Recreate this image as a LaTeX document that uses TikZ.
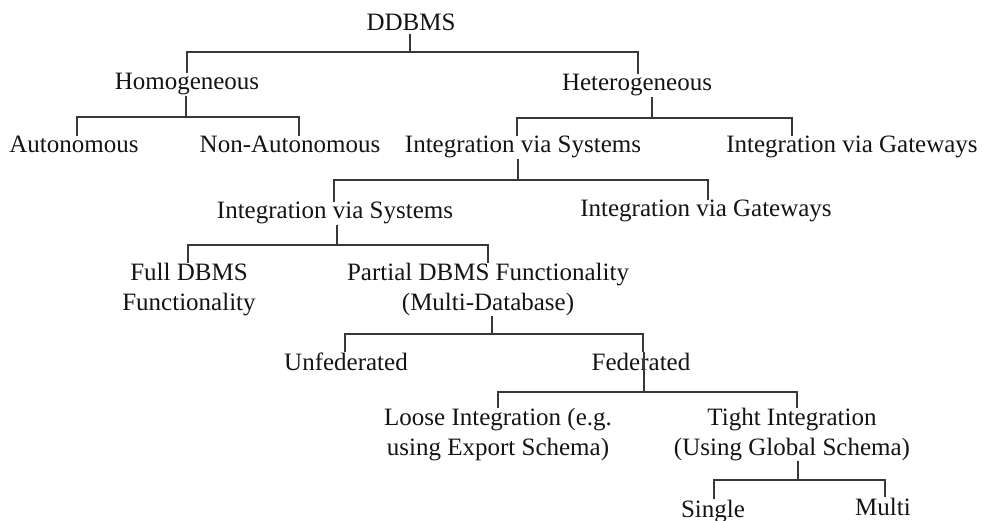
\documentclass[tikz,border=0pt]{standalone}
\usepackage{fontspec}
\setmainfont{Liberation Serif}
\begin{document}
\begin{tikzpicture}[x=1pt,y=-1pt,
  lbl/.style={font=\fontsize{25}{29.5}\selectfont, inner sep=0pt, anchor=base, text=black!92},
  two/.style={lbl, align=center},
  link/.style={draw=black!78, line width=1.3pt}]
\useasboundingbox (0,0) rectangle (982,521);

% labels (centre x, baseline y; two-line labels use the last baseline)
\node[lbl] (ddbms)   at (411,31)  {DDBMS};
\node[lbl] (hom)     at (187,90)  {Homogeneous};
\node[lbl] (het)     at (637,91)  {Heterogeneous};
\node[lbl] (auto)    at (74,153)  {Autonomous};
\node[lbl] (nonauto) at (290,153) {Non-Autonomous};
\node[lbl] (ivsa)    at (523,153) {Integration via Systems};
\node[lbl] (ivga)    at (852,153) {Integration via Gateways};
\node[lbl] (ivsb)    at (335,219) {Integration via Systems};
\node[lbl] (ivgb)    at (706,217) {Integration via Gateways};
\node[two] (full)    at (189,310) {Full DBMS\\Functionality};
\node[two] (partial) at (488,310) {Partial DBMS Functionality\\(Multi-Database)};
\node[lbl] (unfed)   at (346,370) {Unfederated};
\node[lbl] (fed)     at (641,370) {Federated};
\node[two] (loose)   at (498,455) {Loose Integration (e.g.\\using Export Schema)};
\node[two] (tight)   at (792,455) {Tight Integration\\(Using Global Schema)};
\node[lbl] (single)  at (713,517) {Single};
\node[lbl] (multi)   at (883,515) {Multi};

% junction points on the horizontal bars
\coordinate (jroot)  at (410,52);
\coordinate (jhom)   at (186,117);
\coordinate (jhet)   at (652,118);
\coordinate (jivs)   at (518,180);
\coordinate (jivsb)  at (337,245);
\coordinate (jpart)  at (492,334);
\coordinate (jfed)   at (644,392);
\coordinate (jtight) at (798,480);

% DDBMS
\draw[link] ([yshift=-3]ddbms.south -| jroot) -- (jroot);
\draw[link] ([xshift=0]hom.north) |- (jroot) -| ([xshift=1]het.north);
% Homogeneous
\draw[link] (hom.south -| jhom) -- (jhom);
\draw[link] ([xshift=3]auto.north) |- (jhom) -| ([xshift=9]nonauto.north);
% Heterogeneous
\draw[link] (het.south -| jhet) -- (jhet);
\draw[link] ([xshift=-6]ivsa.north) |- (jhet) -| ([xshift=-60]ivga.north);
% Integration via Systems (first level)
\draw[link] (ivsa.south -| jivs) -- (jivs);
\draw[link] ([xshift=-1]ivsb.north) |- (jivs) -| ([xshift=2]ivgb.north);
% Integration via Systems (second level)
\draw[link] (ivsb.south -| jivsb) -- (jivsb);
\draw[link] ([xshift=-1]full.north) |- (jivsb) -| ([xshift=0]partial.north);
% Partial DBMS Functionality
\draw[link] (partial.south -| jpart) -- (jpart);
\draw[link] ([xshift=-1]unfed.north) |- (jpart) -| ([xshift=2]fed.north);
% Federated: the stem runs straight through the label
\draw[link] (fed.north -| jfed) -- (jfed);
\draw[link] ([xshift=0]loose.north) |- (jfed) -| ([xshift=5]tight.north);
% Tight Integration
\draw[link] (tight.south -| jtight) -- (jtight);
\draw[link] ([xshift=1]single.north) |- (jtight) -| ([xshift=2]multi.north);
\end{tikzpicture}
\end{document}
